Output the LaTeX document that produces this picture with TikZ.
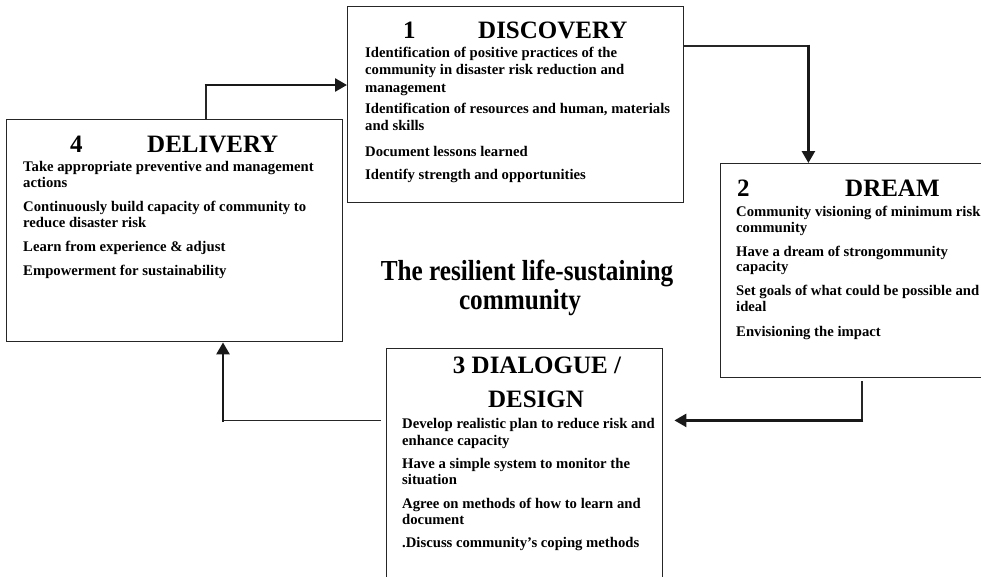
\documentclass[tikz,border=0pt]{standalone}
\usepackage{fontspec}
\setmainfont{Liberation Serif}
\newfontfamily\narrowserif[FakeStretch=0.87]{Liberation Serif}
\usetikzlibrary{arrows.meta,calc}
\tikzset{
  box/.style={draw=black!85, line width=1.4pt, inner sep=0pt, anchor=north west},
  body/.style={font=\fontsize{14.7}{17}\selectfont\bfseries, anchor=base west, inner sep=0pt},
  head/.style={font=\fontsize{25}{28}\selectfont\bfseries, anchor=base west, inner sep=0pt},
  centre/.style={font=\narrowserif\fontsize{29}{32}\selectfont\bfseries, anchor=base, inner sep=0pt},
  thinline/.style={line width=1.3pt, draw=black!85},
  thickarrow/.style={line width=2.6pt, draw=black!90, -{Triangle[length=12pt,width=13pt]}},
}
\begin{document}
\begin{tikzpicture}
\useasboundingbox (0,0) rectangle (981pt,-576pt);
\clip (0,0) rectangle (981pt,-576pt);

% boxes
\node[box, minimum width=336pt, minimum height=196pt] (disc) at (347pt,-6pt) {};
\node[box, minimum width=336pt, minimum height=222pt] (deliv) at (6pt,-119pt) {};
\node[box, minimum width=300pt, minimum height=214pt] (dream) at (720pt,-163pt) {};
\node[box, minimum width=276pt, minimum height=250pt] (dial) at (386pt,-348pt) {};

% connectors
\coordinate (k1) at ($(deliv.north west)+(200pt,34pt)$);
\draw[thinline] ($(deliv.north west)+(200pt,0)$) -- (k1);
\draw[thickarrow] ($(k1)+(-1.3pt,0)$) -- (disc.west |- k1);

\coordinate (k2) at ($(disc.north east)+(124pt,-40pt)$);
\draw[thinline] ($(disc.north east)+(0,-40pt)$) -- (k2);
\draw[thickarrow] ($(k2)+(0,1.3pt)$) -- (dream.north -| k2);

\coordinate (k3) at ($(dream.south west)+(142pt,-42pt)$);
\draw[thinline] ($(dream.south west)+(142pt,-3pt)$) -- (k3);
\draw[thickarrow] ($(k3)+(1.3pt,0)$) -- ($(dial.north east |- k3)+(11pt,0)$);

\coordinate (k4) at ($(deliv.south west)+(217pt,-78pt)$);
\draw[thinline] ($(dial.north west |- k4)+(-5pt,0)$) -- (k4);
\draw[thickarrow] ($(k4)+(0,-1.3pt)$) -- (deliv.south -| k4);

% 1 DISCOVERY
\node[head] (h1n) at (403pt,-38pt) {1};
\node[head] (h1t) at (478pt,-38pt) {DISCOVERY};
\node[body] (a1) at (365pt,-57pt) {Identification of positive practices of the};
\node[body] (a2) at (365pt,-74pt) {community in disaster risk reduction and};
\node[body] (a3) at (365pt,-92pt) {management};
\node[body] (a4) at (365pt,-113pt) {Identification of resources and human, materials};
\node[body] (a5) at (365pt,-130pt) {and skills};
\node[body] (a6) at (365pt,-156pt) {Document lessons learned};
\node[body] (a7) at (365pt,-179pt) {Identify strength and opportunities};

% 4 DELIVERY
\node[head] (h4n) at (70pt,-152pt) {4};
\node[head] (h4t) at (147pt,-152pt) {DELIVERY};
\node[body] (b1) at (23pt,-171pt) {Take appropriate preventive and management};
\node[body] (b2) at (23pt,-187pt) {actions};
\node[body] (b3) at (23pt,-211pt) {Continuously build capacity of community to};
\node[body] (b4) at (23pt,-227pt) {reduce disaster risk};
\node[body] (b5) at (23pt,-251pt) {Learn from experience \& adjust};
\node[body] (b6) at (23pt,-275pt) {Empowerment for sustainability};

% 2 DREAM
\node[head] (h2n) at (737pt,-196pt) {2};
\node[head] (h2t) at (845pt,-196pt) {DREAM};
\node[body] (c1) at (736pt,-216pt) {Community visioning of minimum risk};
\node[body] (c2) at (736pt,-232pt) {community};
\node[body] (c3) at (736pt,-256pt) {Have a dream of strongommunity};
\node[body] (c4) at (736pt,-271pt) {capacity};
\node[body] (c5) at (736pt,-295pt) {Set goals of what could be possible and};
\node[body] (c6) at (736pt,-311pt) {ideal};
\node[body] (c7) at (736pt,-336pt) {Envisioning the impact};

% 3 DIALOGUE / DESIGN
\node[head, anchor=base] (h3a) at (537pt,-373pt) {3 DIALOGUE /};
\node[head, anchor=base] (h3b) at (536pt,-407pt) {DESIGN};
\node[body] (e1) at (402pt,-428pt) {Develop realistic plan to reduce risk and};
\node[body] (e2) at (402pt,-445pt) {enhance capacity};
\node[body] (e3) at (402pt,-468pt) {Have a simple system to monitor the};
\node[body] (e4) at (402pt,-484pt) {situation};
\node[body] (e5) at (402pt,-508pt) {Agree on methods of how to learn and};
\node[body] (e6) at (402pt,-524pt) {document};
\node[body] (e7) at (402pt,-547pt) {.Discuss community’s coping methods};

% centre
\node[centre] (m1) at (527pt,-280pt) {The resilient life-sustaining};
\node[centre] (m2) at (520pt,-309pt) {community};
\end{tikzpicture}
\end{document}
